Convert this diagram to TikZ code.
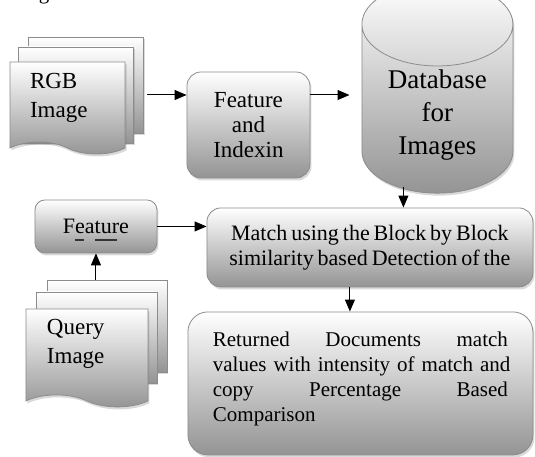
\documentclass[tikz,border=0pt]{standalone}
\usepackage{fontspec}
\setmainfont{Liberation Serif}
\usetikzlibrary{shapes.geometric, shapes.symbols, arrows.meta, shadows}
\newcommand{\tightsp}{\spaceskip=0.18em plus 0.1em minus 0.06em\relax}

\begin{document}
\begin{tikzpicture}
    \tikzstyle{grayfill} = [draw=black!45, line width=0.8pt, top color=white, bottom color=black!42, drop shadow={shadow xshift=1.5pt, shadow yshift=-2.5pt, opacity=0.3}]
    \tikzstyle{page} = [grayfill, rectangle, minimum width=115pt, minimum height=96pt]
    \tikzstyle{doc} = [grayfill, tape, tape bend top=none, tape bend bottom=out and in, tape bend height=12pt, minimum width=115pt, minimum height=92pt, inner sep=0pt, align=left, font=\fontsize{23}{29}\selectfont]
    \tikzstyle{process} = [grayfill, rectangle, rounded corners=14pt, align=center, font=\fontsize{22}{25}\selectfont\tightsp]
    \tikzstyle{database} = [grayfill, cylinder, shape border rotate=90, aspect=0.57, minimum width=151pt, minimum height=175pt, text width=140pt, align=center, font=\fontsize{27}{33}\selectfont]
    \tikzstyle{arrow} = [line width=1pt, -{Triangle[length=12pt,width=10pt]}]

    \useasboundingbox (0,0) rectangle (535pt,-457pt);
    \node (capg) [anchor=base, font=\fontsize{21}{25}\selectfont] at (44pt,0pt) {g};

    % RGB image stack
    \node (rgbback) [page] at (85.5pt,-85pt) {};
    \node (rgbmid) [page] at ([shift={(-10pt,-10pt)}]rgbback.center) {};
    \node (rgbfront) [doc, text width=75pt, text height=16pt, text depth=42pt] at ([shift={(-8pt,-7pt)}]rgbmid.center) {RGB\\Image};

    \node (feat) [process, font=\fontsize{23}{25}\selectfont, minimum width=123pt, minimum height=106pt, right of=rgbfront, xshift=152.5pt, yshift=-23pt] {Feature\\and\\Indexin};
    \node (db) [database, right of=feat, xshift=160.5pt, yshift=10pt] {Database\\for\\Images};
    \node (match) [process, minimum width=326pt, minimum height=79pt, below of=db, xshift=-67.5pt, yshift=-104pt] {Match using the Block by Block\\similarity based Detection of the};
    \node (ret) [process, font=\fontsize{21}{25}\selectfont, rounded corners=20pt, minimum width=345pt, minimum height=143pt, text width=295pt, align=left, text height=16pt, text depth=89pt, below of=match, xshift=-9.5pt, yshift=-107.5pt] {Returned\hfill Documents\hfill match\\\mbox{values with intensity of match and}\\copy\hfill Percentage\hfill Based\\Comparison};

    % query side
    \node (qfeat) [process, rounded corners=10pt, minimum width=122pt, minimum height=53pt, left of=match, xshift=-245.5pt, yshift=21pt] {Feature};
    \draw [line width=1.2pt, black!80] ([shift={(-21pt,-13.5pt)}]qfeat.center) -- ++(9pt,0pt);
    \draw [line width=1.2pt, black!80] ([shift={(-1pt,-13.5pt)}]qfeat.center) -- ++(22pt,0pt);
    \node (qback) [page, minimum width=120pt, minimum height=92pt, below of=qfeat, xshift=11pt, yshift=-71pt] {};
    \node (qmid) [page, minimum width=121pt, minimum height=91pt] at ([shift={(-10.5pt,-11.5pt)}]qback.center) {};
    \node (qfront) [doc, minimum width=122pt, minimum height=98pt, text width=80pt, text height=16pt, text depth=51pt] at ([shift={(-9.5pt,-14.5pt)}]qmid.center) {Query\\Image};

    \draw [arrow, shorten <=4pt] (rgbback.east |- rgbmid.east) -- (feat.west |- rgbmid.east);
    \draw [arrow, shorten >=12pt] (feat.east |- rgbmid.east) -- (db.west |- rgbmid.east);
    \draw [arrow] ([xshift=-34pt, yshift=7pt]db.south) -- ([xshift=-34pt]db.south |- match.north);
    \draw [arrow] (qfeat.east) -- (qfeat.east -| match.west);
    \draw [arrow] (qback.north -| qfeat.south) -- (qfeat.south);
    \draw [arrow] ([xshift=-20pt]match.south) -- ([xshift=-20pt]match.south |- ret.north);
\end{tikzpicture}
\end{document}
